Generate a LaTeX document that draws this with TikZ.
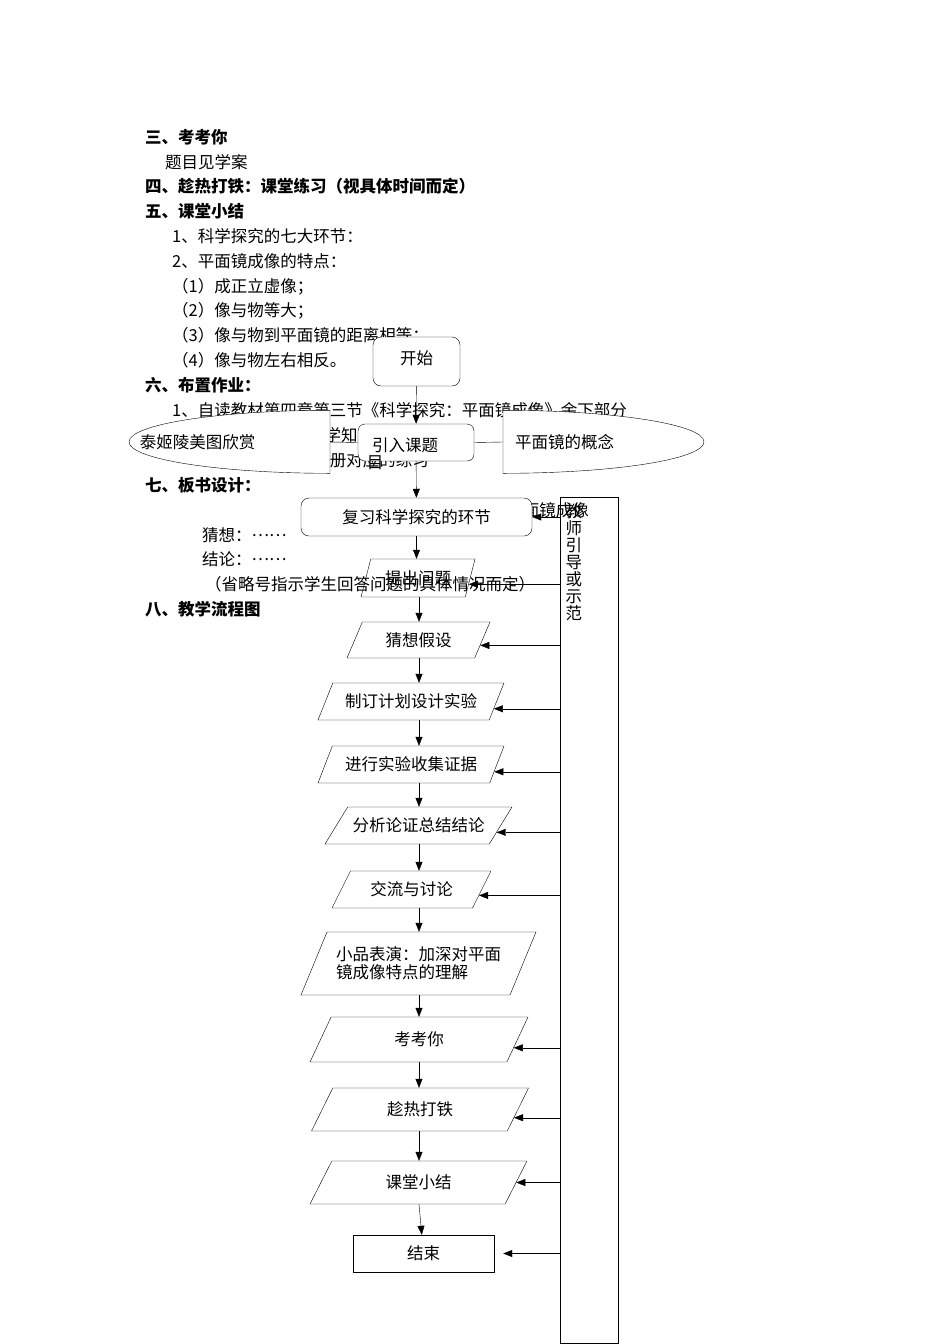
\documentclass[tikz,border=0pt]{standalone}
\usepackage{fontspec}
\setmainfont{Noto Sans CJK SC}
\usetikzlibrary{arrows.meta,shapes.geometric}
\tikzset{>={Triangle[length=9pt,width=7pt]}}
\tikzstyle{pageline}=[anchor=west,inner sep=0pt,text height=14.5pt,text depth=2pt]
\tikzstyle{pagehead}=[pageline,font=\fontsize{16.5pt}{18pt}\selectfont\bfseries]
\tikzstyle{term}=[rectangle,draw,fill=white,rounded corners=8pt]
\tikzstyle{side}=[rectangle,inner ysep=0pt,minimum height=63pt,text width=177pt,align=left]
\tikzstyle{flow}=[->]
\tikzset{io/.style 2 args={trapezium,trapezium stretches body,trapezium left angle=#1,trapezium right angle=#2,draw,fill=white}}
\newcommand{\middots}{\raisebox{5pt}{……}}
\pgfdeclarelayer{page}
\pgfdeclarelayer{halves}
\pgfsetlayers{page,halves,main}

\begin{document}
\begin{tikzpicture}[x=1pt,y=-1pt,font=\fontsize{16.5pt}{18pt}\selectfont,line width=1pt]
\useasboundingbox (0,0) rectangle (950,1344);

% lesson text behind the chart
\begin{pgfonlayer}{page}
\node[pagehead] (hd3) at (145,137) {三、考考你};
\node[pageline] (quizref) at (165,162) {题目见学案};
\node[pagehead] (hd4) at (145,186) {四、趁热打铁：课堂练习（视具体时间而定）};
\node[pagehead] (hd5) at (145,211) {五、课堂小结};
\node[pageline] (sum1) at (172,236) {1、科学探究的七大环节：};
\node[pageline] (sum2) at (172,261) {2、平面镜成像的特点：};
\node[pageline] (feat1) at (172,286) {（1）成正立虚像；};
\node[pageline] (feat2) at (172,310) {（2）像与物等大；};
\node[pageline] (feat3) at (172,335) {（3）像与物到平面镜的距离相等；};
\node[pageline] (feat4) at (172,360) {（4）像与物左右相反。};
\node[pagehead] (hd6) at (145,385) {六、布置作业：};
\node[pageline] (hw1) at (172,410) {1、自读教材第四章第三节《科学探究：平面镜成像》余下部分};
\node[pageline] (hw2) at (209,435) {的内容，巩固所学知识。};
\node[pageline] (hw3) at (238,460) {2、做好练习册对应的练习};
\node[pagehead] (hd7) at (145,485) {七、板书设计：};
\node[pageline,anchor=east] (bbtitle) at (589,510) {第三节　科学探究：平面镜成像};
\node[pageline] (bbguess) at (202,535) {猜想：\middots};
\node[pageline] (bbconcl) at (202,559) {结论：\middots};
\node[pageline] (bbnote) at (205,584) {（省略号指示学生回答问题的具体情况而定）};
\node[pagehead] (hd8) at (145,609) {八、教学流程图};
\end{pgfonlayer}

% flow chart
\node[term,minimum width=87pt,minimum height=49pt,text height=14.5pt,text depth=9pt] (start) at (416.5,361.5) {开始};
\node[term,rounded corners=7pt,minimum width=116pt,minimum height=37pt,text width=88pt,align=left,inner xsep=14pt,text height=20pt,text depth=2pt] (intro) at (416,442.5) {引入课题};
\node (intro-tail) at (375,463) {目};
\node[side,anchor=east,inner xsep=11pt,text width=179pt] (taj) at (330,442) {泰姬陵美图欣赏};
\node[side,anchor=west,inner xsep=12pt] (concept) at (503,442) {平面镜的概念};
\begin{pgfonlayer}{halves}
\draw[fill=white] (taj.north east) arc[start angle=90,end angle=270,x radius=201pt,y radius=31.5pt] -- cycle;
\draw[fill=white] (concept.north west) arc[start angle=90,end angle=-90,x radius=201pt,y radius=31.5pt] -- cycle;
\end{pgfonlayer}
\node[term,minimum width=231pt,minimum height=38pt] (review) at (416.5,517) {复习科学探究的环节};
\node[io={66}{114},fill=none,minimum width=114pt,minimum height=38pt] (ask) at (418,578) {提出问题};
\node[io={55}{125},minimum width=143pt,minimum height=36pt] (guess) at (418.5,640) {猜想假设};
\node[io={56}{124},minimum width=186pt,minimum height=37pt] (plan) at (411,701.5) {制订计划设计实验};
\node[io={57}{123},minimum width=186pt,minimum height=37pt] (exp) at (411,764.5) {进行实验收集证据};
\node[io={44}{136},minimum width=187pt,minimum height=37pt] (analyze) at (418.5,825.5) {分析论证总结结论};
\node[io={50}{130},minimum width=159pt,minimum height=37pt] (discuss) at (411.5,889.5) {交流与讨论};
\node[io={57}{123},minimum width=235pt,minimum height=63pt,align=left] (skit) at (418.5,963.5) {小品表演：加深对平面\\镜成像特点的理解};
\node[io={46}{134},minimum width=218pt,minimum height=45pt] (quiz) at (419,1039.5) {考考你};
\node[io={46}{134},minimum width=217pt,minimum height=43pt] (strike) at (420,1109.5) {趁热打铁};
\node[io={45}{135},minimum width=217pt,minimum height=43pt] (summary) at (418.5,1182.5) {课堂小结};
\node[draw,fill=white,minimum width=141pt,minimum height=37pt] (finish) at (423.5,1253.5) {结束};
\node[draw,minimum width=58pt,minimum height=846pt] (teach) at (589,920) {};
\node[font=\fontsize{16.5pt}{17pt}\selectfont,align=center,anchor=north,inner sep=0pt] (teachtext) at ([xshift=14pt,yshift=-7pt]teach.north west) {教\\师\\引\\导\\或\\示\\范};

% connectors
\coordinate (axis) at (419,0);
\draw (taj.east) -- (intro.west);
\draw (intro.east) -- (concept.west);
\draw[flow] (start) -- (intro);
\draw[flow] (intro) -- (review);
\draw[flow] (review.south) -- (review.south |- ask.north);
\draw[flow] (ask.south -| axis) -- (guess.north -| axis);
\draw[flow] (guess.south -| axis) -- (plan.north -| axis);
\draw[flow] (plan.south -| axis) -- (exp.north -| axis);
\draw[flow] (exp.south -| axis) -- (analyze.north -| axis);
\draw[flow] (analyze.south -| axis) -- (discuss.north -| axis);
\draw[flow] (discuss.south -| axis) -- (skit.north -| axis);
\draw[flow] (skit.south -| axis) -- (quiz.north -| axis);
\draw[flow] (quiz.south -| axis) -- (strike.north -| axis);
\draw[flow] (strike.south -| axis) -- (summary.north -| axis);
\draw[flow] (summary.south -| axis) -- (finish);

% teacher guidance
\draw[flow] (teach.west |- review.east) -- (review.east);
\draw[flow] (teach.west |- ask.-7) -- (ask.-7);
\foreach \n in {guess,plan,exp,analyze,discuss,quiz,strike}
  \draw[flow] (teach.west |- \n.-5) -- (\n.-5);
\draw[flow] (teach.west |- summary.east) -- (summary.east);
\draw[flow,shorten >=9pt] (teach.west |- finish.east) -- (finish.east);
\end{tikzpicture}
\end{document}
